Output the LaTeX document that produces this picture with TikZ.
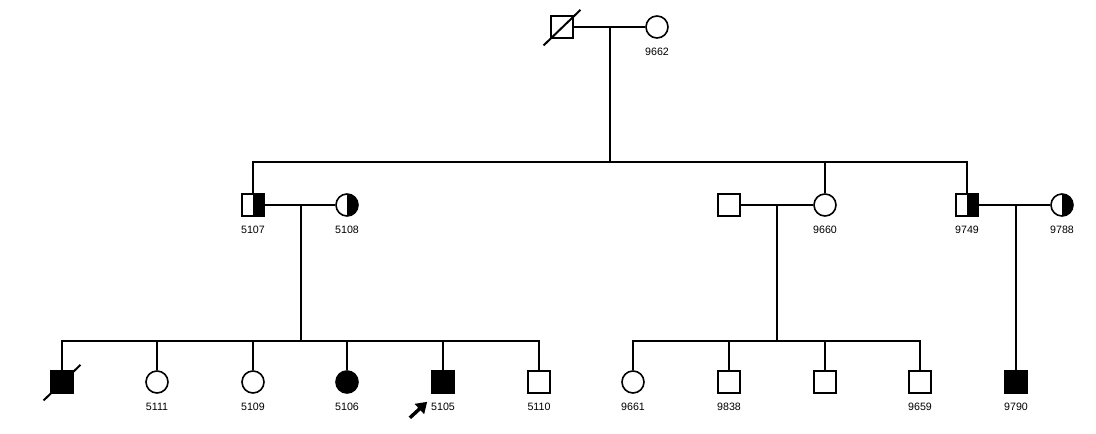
\documentclass[tikz,border=0pt]{standalone}
\usepackage{fontspec}
\setmainfont{Liberation Sans}
\usetikzlibrary{arrows.meta}
\begin{document}
\begin{tikzpicture}[x=0.75pt, y=-0.75pt, font=\fontsize{8}{9.6}\selectfont, line width=1.5pt,
      ind/.style={draw, minimum size=16.5pt, inner sep=0pt, line width=1.2pt},
      male/.style={ind, rectangle},
      female/.style={ind, circle},
      aff/.style={fill=black},
      carr/.style={path picture={\fill[black] (path picture bounding box.south) rectangle (path picture bounding box.north east);}},
      id/.style={label={[label distance=3pt]below:#1}}]
    \useasboundingbox (0,0) rectangle (1096,434);
    % generation I
    \node[male] (gf) at (562,27) {};
    \node[female, id=9662] (i9662) at (657,27) {};
    \draw ([shift={(-5pt,-5pt)}]gf.south west) -- ([shift={(5pt,4pt)}]gf.north east);
    \draw (gf) -- (i9662);
    \coordinate (c1) at (610,27);
    \coordinate (s1) at (610,162);
    % generation II
    \node[male, carr, id=5107] (i5107) at (253,205) {};
    \node[female, carr, id=5108] (i5108) at (347,205) {};
    \node[male] (sp9660) at (729,205) {};
    \node[female, id=9660] (i9660) at (825,205) {};
    \node[male, carr, id=9749] (i9749) at (967,205) {};
    \node[female, carr, id=9788] (i9788) at (1062,205) {};
    \draw (c1) -- (s1);
    \draw (i5107.north) |- (s1) -| (i9749.north);
    \draw (s1 -| i9660) -- (i9660.north);
    \draw (i5107) -- (i5108);
    \draw (sp9660) -- (i9660);
    \draw (i9749) -- (i9788);
    \coordinate (c2) at (301,205);
    \coordinate (s2) at (301,341);
    \coordinate (c3) at (777,205);
    \coordinate (s3) at (777,341);
    \coordinate (c4) at (1016,205);
    % generation III
    \node[male, aff] (d5) at (62,382) {};
    \node[female, id=5111] (i5111) at (157,382) {};
    \node[female, id=5109] (i5109) at (253,382) {};
    \node[female, aff, id=5106] (i5106) at (347,382) {};
    \node[male, aff, id=5105] (i5105) at (443,382) {};
    \node[male, id=5110] (i5110) at (539,382) {};
    \node[female, id=9661] (i9661) at (633,382) {};
    \node[male, id=9838] (i9838) at (729,382) {};
    \node[male] (s9) at (825,382) {};
    \node[male, id=9659] (i9659) at (920,382) {};
    \node[male, aff, id=9790] (i9790) at (1016,382) {};
    \draw ([shift={(-5pt,-5pt)}]d5.south west) -- ([shift={(5pt,4pt)}]d5.north east);
    \draw (c2) -- (s2);
    \draw (d5.north) |- (s2) -| (i5110.north);
    \foreach \k in {i5111,i5109,i5106,i5105} {\draw (s2 -| \k) -- (\k.north);}
    \draw (c3) -- (s3);
    \draw (i9661.north) |- (s3) -| (i9659.north);
    \foreach \k in {i9838,s9} {\draw (s3 -| \k) -- (\k.north);}
    \draw (c4) -- (i9790);
    % proband
    \coordinate (pa) at ([shift={(-16pt,-18pt)}]i5105.south west);
    \coordinate (pz) at ([shift={(-3pt,-6pt)}]i5105.south west);
    \draw[-{Triangle[width=10pt,length=8pt]}, line width=2.6pt] (pa) -- (pz);
  \end{tikzpicture}
\end{document}
